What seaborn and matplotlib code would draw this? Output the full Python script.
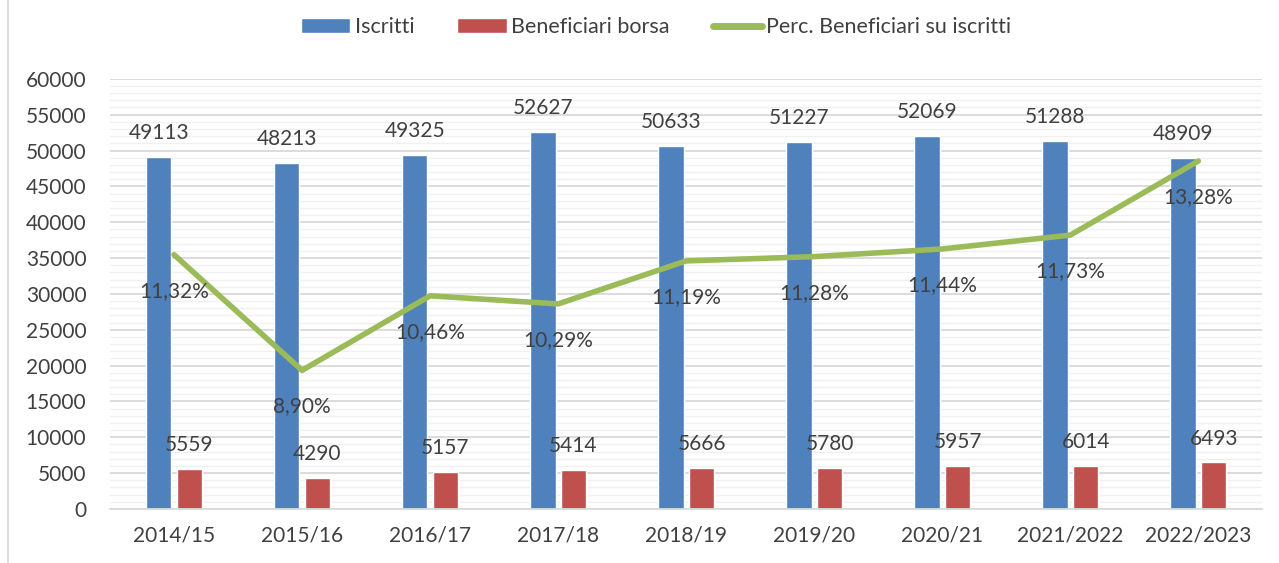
import matplotlib
matplotlib.use("Agg")
import matplotlib.pyplot as plt
from matplotlib.patches import Patch
from matplotlib.lines import Line2D
from matplotlib.ticker import MultipleLocator
import seaborn as sns
import pandas as pd
import numpy as np

# data
anni = ["2014/15", "2015/16", "2016/17", "2017/18", "2018/19",
        "2019/20", "2020/21", "2021/2022", "2022/2023"]
iscritti = [49113, 48213, 49325, 52627, 50633, 51227, 52069, 51288, 48909]
beneficiari = [5559, 4290, 5157, 5414, 5666, 5780, 5957, 6014, 6493]
perc = [11.32, 8.90, 10.46, 10.29, 11.19, 11.28, 11.44, 11.73, 13.28]

BLUE = "#4F81BD"
RED = "#C0504D"
GREEN = "#9BBB59"
TXT = "#404040"
FS = 15

sns.set_style("white")
plt.rcParams["font.family"] = ["Lato", "DejaVu Sans"]

df = pd.DataFrame({
    "anno": anni * 2,
    "valore": iscritti + beneficiari,
    "serie": ["Iscritti"] * len(anni) + ["Beneficiari borsa"] * len(anni),
})

fig = plt.figure(figsize=(12.79, 5.63), dpi=100)
ax = fig.add_axes([0.086, 0.096, 0.901, 0.764])

sns.barplot(data=df, x="anno", y="valore", hue="serie", palette=[BLUE, RED],
            width=0.48, gap=0.17, dodge=True, legend=False, ax=ax, saturation=1)

# grid
ax.set_ylim(0, 60000)
ax.set_xlim(-0.5, len(anni) - 0.5)
ax.yaxis.set_major_locator(MultipleLocator(5000))
ax.yaxis.set_minor_locator(MultipleLocator(1000))
ax.grid(axis="y", which="major", color="#D9D9D9", lw=1.3)
ax.grid(axis="y", which="minor", color="#F0F0F0", lw=1.0)
ax.set_axisbelow(True)
for s in ["top", "right", "left"]:
    ax.spines[s].set_visible(False)
ax.spines["bottom"].set_color("#D9D9D9")
ax.spines["bottom"].set_linewidth(1.3)
ax.set_xlabel("")
ax.set_ylabel("")
ax.tick_params(axis="y", which="both", length=0, labelsize=FS, labelcolor=TXT, pad=17)
ax.set_xticks(range(len(anni)))
ax.set_xticklabels(anni)
ax.tick_params(axis="x", which="major", length=0, labelsize=FS, labelcolor=TXT, pad=12)
ax.set_xticks(np.arange(-0.5, len(anni)), minor=True)
ax.tick_params(axis="x", which="minor", length=7, color="#D9D9D9", width=1.3)

# bar labels
for cont in ax.containers:
    ax.bar_label(cont, fmt="%d", padding=10, fontsize=FS, color=TXT)

# percentage line on hidden secondary axis
ax2 = ax.twinx()
sns.lineplot(x=np.arange(len(anni)), y=perc, ax=ax2, color=GREEN, lw=4,
             solid_capstyle="round", solid_joinstyle="round")
ax2.set_ylim(6, 15)
ax2.axis("off")
for i, p in enumerate(perc):
    ax2.annotate(f"{p:.2f}%".replace(".", ","), (i, p), xytext=(0, -26),
                 textcoords="offset points", ha="center", va="center",
                 fontsize=FS, color=TXT)
ax2.set_xlim(-0.5, len(anni) - 0.5)

# legend
handles = [
    Patch(facecolor=BLUE, label="Iscritti"),
    Patch(facecolor=RED, label="Beneficiari borsa"),
    Line2D([], [], color=GREEN, lw=5, solid_capstyle="round", label="Perc. Beneficiari su iscritti"),
]
fig.legend(handles=handles, loc="center", bbox_to_anchor=(0.513, 0.952), ncol=3,
           frameon=False, fontsize=15.5, labelcolor=TXT, handlelength=2.3,
           handleheight=0.65, handletextpad=0.2, columnspacing=2.0)

# chart area border on the left
fig.add_artist(Line2D([0.0065, 0.0065], [0, 1], color="#D9D9D9", lw=1.3,
                      transform=fig.transFigure))

fig.savefig("out.png", dpi=100)
